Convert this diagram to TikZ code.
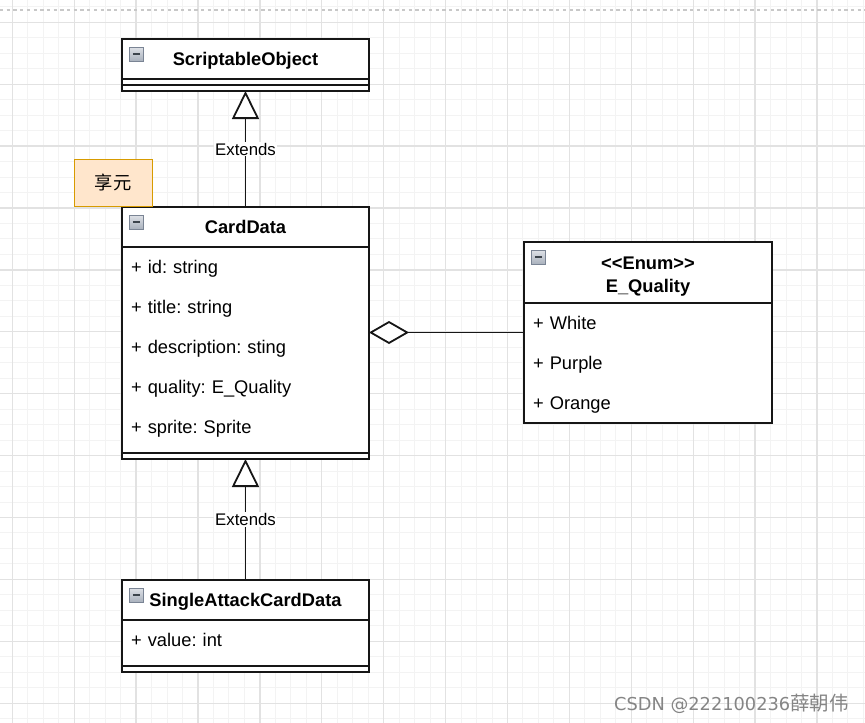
\documentclass[tikz,border=0pt]{standalone}
\usepackage{fontspec}
\usepackage{tikz}
\usetikzlibrary{arrows.meta, shapes, positioning, fit}
\newfontfamily\umlfont{Liberation Sans}
\newfontfamily\cjkfont{Noto Sans CJK SC}
\newfontfamily\markfont{DejaVu Sans}
\frenchspacing
\newcommand\umlstrut{\rule[-6.9pt]{0pt}{26.9pt}}
\newcommand\headstrut{\rule[-4.9pt]{0pt}{22.9pt}}

\definecolor{umlline}{HTML}{161616}
\definecolor{notefill}{HTML}{FFE6CC}
\definecolor{notedraw}{HTML}{D79B00}
\definecolor{gridminor}{HTML}{F3F3F3}
\definecolor{gridmajor}{HTML}{E2E2E2}
\definecolor{pageedge}{HTML}{C8C8C8}
\definecolor{icondraw}{HTML}{7A8494}
\definecolor{icontop}{HTML}{DDE0E6}
\definecolor{iconbottom}{HTML}{A8B0BC}
\definecolor{iconminus}{HTML}{3C444C}
\definecolor{markgray}{HTML}{858585}

\begin{document}
\begin{tikzpicture}[
  x=1pt, y=-1pt,
  line/.style={draw=umlline, line width=1.8pt},
  inherit/.style={line, -{Triangle[length=28pt, width=27pt, fill=white]}},
  aggregate/.style={line, -{Diamond[length=40pt, width=23pt, fill=white]}},
  umlpart/.style={rectangle, fill=white, inner sep=0pt, outer sep=0pt, minimum width=247pt},
  classhead/.style={umlpart, minimum height=40pt, text width=229pt, inner xsep=9pt, align=center,
              execute at begin node=\headstrut, execute at end node=\headstrut,
              font=\umlfont\bfseries\fontsize{18.3pt}{23pt}\selectfont},
  classbody/.style={umlpart, text width=229pt, inner xsep=9pt, align=left,
              execute at begin node=\umlstrut, execute at end node=\umlstrut,
              font=\umlfont\fontsize{18.3pt}{40pt}\selectfont},
  classfoot/.style={umlpart, minimum height=12pt},
  classbox/.style={rectangle, draw=umlline, line width=1.8pt, inner sep=0pt, outer sep=0pt},
  sepline/.style={draw=umlline, line width=1.8pt},
  iconbox/.style={rectangle, draw=icondraw, line width=0.8pt, top color=icontop, bottom color=iconbottom,
              minimum size=14pt, inner sep=0pt,
              path picture={\draw[iconminus, line width=2pt] ([xshift=3.5pt]path picture bounding box.west)
                -- ([xshift=-3.5pt]path picture bounding box.east);}},
  notebox/.style={rectangle, draw=notedraw, fill=notefill, line width=1.5pt, inner sep=0pt,
              minimum width=78pt, minimum height=47pt, font=\cjkfont\fontsize{18.3pt}{22pt}\selectfont},
  edgelabel/.style={fill=white, inner sep=1pt, font=\umlfont\fontsize{16.8pt}{20pt}\selectfont},
  watermark/.style={inner sep=0pt, text=markgray, font=\markfont\fontsize{17.8pt}{20pt}\selectfont}
]

% =======================================================
%                     CANVAS
% =======================================================
\useasboundingbox (0,0) rectangle (865,723);
\fill[white] (0,0) rectangle (865,723);
\foreach \i in {0,...,55}
  \draw[gridminor, line width=1pt] ({12.3+15.475*\i},0) -- ({12.3+15.475*\i},723);
\foreach \i in {-1,...,45}
  \draw[gridminor, line width=1pt] (0,{22.3+15.475*\i}) -- (865,{22.3+15.475*\i});
\foreach \i in {0,...,13}
  \draw[gridmajor, line width=1.3pt] ({12.3+61.9*\i},0) -- ({12.3+61.9*\i},723);
\foreach \i in {0,...,11}
  \draw[gridmajor, line width=1.3pt] (0,{22.3+61.9*\i}) -- (865,{22.3+61.9*\i});
\draw[pageedge, line width=1.5pt, dash pattern=on 3.3pt off 3.4pt] (0,10) -- (865,10);

% =======================================================
%                     CLASSES
% =======================================================
% CardData
\node[classhead] (carddatahead) at (245.5,227) {CardData};
\node[classbody, minimum height=200pt, below=0pt of carddatahead] (carddatabody)
  {+ id: string\\+ title: string\\+ description: sting\\+ quality: E\_Quality\\+ sprite: Sprite};
\node[classfoot, below=0pt of carddatabody] (carddatafoot) {};
\node[classbox, fit=(carddatahead)(carddatabody)(carddatafoot)] (carddata) {};
\draw[sepline] (carddatahead.south west) -- (carddatahead.south east);
\draw[sepline] (carddatafoot.west) -- (carddatafoot.east);

% ScriptableObject
\node[classfoot, above=116pt of carddata] (scriptablefoot) {};
\node[classhead, above=0pt of scriptablefoot] (scriptablehead) {ScriptableObject};
\node[classbox, fit=(scriptablehead)(scriptablefoot)] (scriptable) {};
\draw[sepline] (scriptablehead.south west) -- (scriptablehead.south east);
\draw[sepline] (scriptablefoot.west) -- (scriptablefoot.east);

% SingleAttackCardData
\node[classhead, below=121pt of carddata] (singleattackhead) {SingleAttackCardData};
\node[classbody, minimum height=40pt, below=0pt of singleattackhead] (singleattackbody) {+ value: int};
\node[classfoot, below=0pt of singleattackbody] (singleattackfoot) {};
\node[classbox, fit=(singleattackhead)(singleattackbody)(singleattackfoot)] (singleattack) {};
\draw[sepline] (singleattackhead.south west) -- (singleattackhead.south east);
\draw[sepline] (singleattackfoot.west) -- (singleattackfoot.east);

% E_Quality (enum)
\node[classhead, minimum width=248pt, text width=230pt, minimum height=61pt, anchor=north west,
      execute at begin node={\rule{0pt}{22pt}}] (equalityhead)
  at ([xshift=155pt, yshift=-35pt]carddata.north east) {<<Enum>>\\E\_Quality};
\node[classbody, text width=230pt, minimum height=120pt, below=0pt of equalityhead] (equalitybody)
  {+ White\\+ Purple\\+ Orange};
\node[classbox, fit=(equalityhead)(equalitybody)] (equality) {};
\draw[sepline] (equalityhead.south west) -- (equalityhead.south east);

% collapse icons
\node[iconbox, below right=8pt and 7pt of scriptable.north west] (scriptableicon) {};
\node[iconbox, below right=8pt and 7pt of carddata.north west] (carddataicon) {};
\node[iconbox, below right=8pt and 7pt of singleattack.north west] (singleattackicon) {};
\node[iconbox, below right=8pt and 7pt of equality.north west] (equalityicon) {};

% note
\node[notebox, above left=0pt and -31pt of carddata.north west] (flyweight) {享元};

% =======================================================
%                     CONNECTIONS
% =======================================================
\draw[inherit] (carddata) -- node[edgelabel] {Extends} (scriptable);
\draw[inherit] (singleattack) -- node[edgelabel] {Extends} (carddata);
\draw[aggregate] (equality.west) -- (equality.west -| carddata.east);

\node[watermark, anchor=east] (csdn) at (849,704)
  {CSDN @222100236{\cjkfont\fontsize{19.5pt}{20pt}\selectfont 薛朝伟}};

\end{tikzpicture}
\end{document}
